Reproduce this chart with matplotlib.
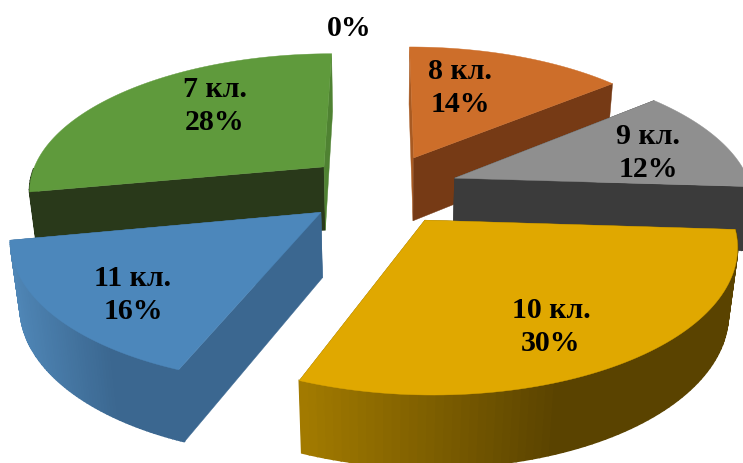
import numpy as np
import matplotlib
matplotlib.use("Agg")
import matplotlib.pyplot as plt
from matplotlib.colors import to_rgb

# clockwise from 12 o'clock
classes = ["", "8 кл.", "9 кл.", "10 кл.", "11 кл.", "7 кл."]
percents = [0, 14, 12, 30, 16, 28]

top_colors = ["none", "#cd6e2a", "#8f8f8f", "#e0a800", "#4c87bb", "#5f9a3c"]
start_face = ["none", "#a85a22", "#3b3b3b", "#765a00", "#3b6790", "#29391a"]
end_face = ["none", "#763a15", "#3b3b3b", "#765a00", "#3b6790", "#4f8232"]
wall_light = ["none", "#763a15", "#3b3b3b", "#a47c00", "#4f86b6", "#29391a"]
wall_dark = ["none", "#763a15", "#3b3b3b", "#5a4300", "#3b6790", "#29391a"]

# label centres in pixels
label_pos = [(349, 28), (460, 88), (648, 153), (551, 327), (133, 295), (215, 106)]

# fake 3d camera, fitted by eye
explode = 0.26
x0, y0 = 382, 190
A, B = 297, 137
k = 0.155   # perspective
m = 0.025   # bottom plane is a bit further away
D = 66      # height of the pie


def project(x, y, bottom=False):
    w = 1 + k * y + (m if bottom else 0)
    sx = x0 + A * x / w
    sy = y0 - B * y / w
    if bottom:
        sy = sy + D / w
    return sx, sy


def mix(c1, c2, t):
    c1, c2 = np.array(to_rgb(c1)), np.array(to_rgb(c2))
    return tuple(c1 + (c2 - c1) * t)


fig = plt.figure(figsize=(7.43, 4.64), dpi=100)
ax = fig.add_axes([0, 0, 1, 1])
ax.set_xlim(0, 743)
ax.set_ylim(464, 0)
ax.axis("off")

edges = np.cumsum([0] + percents) / sum(percents) * 2 * np.pi

# back slices first
order = [1, 5, 2, 4, 3]
for i in order:
    a0, a1 = edges[i], edges[i + 1]
    mid = (a0 + a1) / 2
    ox, oy = explode * np.sin(mid), explode * np.cos(mid)
    th = np.linspace(a0, a1, 80)
    rx = ox + np.sin(th)
    ry = oy + np.cos(th)

    tx, ty = project(rx, ry)
    bx, by = project(rx, ry, bottom=True)
    ax_t = project(ox, oy)
    ax_b = project(ox, oy, bottom=True)

    # flat cut faces
    ax.fill([ax_t[0], tx[0], bx[0], ax_b[0]], [ax_t[1], ty[0], by[0], ax_b[1]],
            color=start_face[i], lw=0.3)
    ax.fill([ax_t[0], tx[-1], bx[-1], ax_b[0]], [ax_t[1], ty[-1], by[-1], ax_b[1]],
            color=end_face[i], lw=0.3)

    # outer wall, only the part turned to the viewer
    xmin, xmax = tx.min(), tx.max()
    for j in range(len(th) - 1):
        if np.cos(th[j]) > -0.02:
            continue
        t = min(1, (tx[j] - xmin) / (0.6 * (xmax - xmin)))
        c = mix(wall_light[i], wall_dark[i], t)
        ax.fill([tx[j], tx[j + 1], bx[j + 1], bx[j]], [ty[j], ty[j + 1], by[j + 1], by[j]],
                color=c, lw=1.2)

    ax.fill(np.r_[ax_t[0], tx], np.r_[ax_t[1], ty], color=top_colors[i], lw=0.3)

for name, p, pos in zip(classes, percents, label_pos):
    txt = (name + "\n" if name else "") + str(p) + "%"
    ax.text(pos[0], pos[1], txt, ha="center", va="center", fontsize=21.5,
            fontweight="bold", family="Liberation Serif", linespacing=1.27, color="black")

fig.savefig("out.png", dpi=100)
